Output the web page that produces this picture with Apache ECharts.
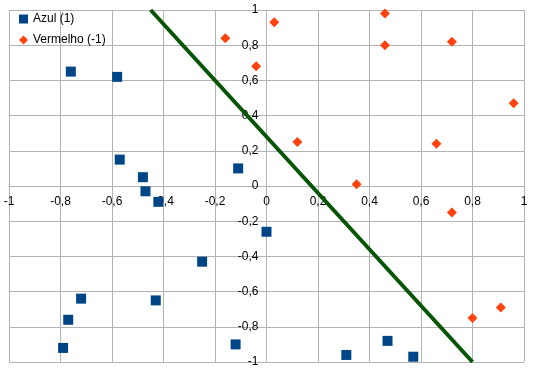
<!DOCTYPE html>
<html>
<head>
<meta charset="utf-8">
<script src="https://cdn.jsdelivr.net/npm/echarts@6/dist/echarts.min.js"></script>
<style>
html,body{margin:0;padding:0;background:#fff;}
#chart{width:534px;height:373px;}
</style>
</head>
<body>
<div id="chart"></div>
<script>
var seriesNames = ['Azul (1)', 'Vermelho (-1)'];
var blueX = [-0.76, -0.58, -0.57, -0.48, -0.47, -0.42, -0.11, -0.25, 0.0, -0.43, -0.72, -0.77, -0.79, -0.12, 0.31, 0.47, 0.57];
var blueY = [0.65, 0.62, 0.15, 0.05, -0.03, -0.09, 0.10, -0.43, -0.26, -0.65, -0.64, -0.76, -0.92, -0.90, -0.96, -0.88, -0.97];
var redX = [-0.16, -0.04, 0.03, 0.12, 0.35, 0.46, 0.46, 0.72, 0.96, 0.66, 0.72, 0.80, 0.91];
var redY = [0.84, 0.68, 0.93, 0.25, 0.01, 0.98, 0.80, 0.82, 0.47, 0.24, -0.15, -0.75, -0.69];
var lineX = [-0.45, 0.80];
var lineY = [1.0, -1.0];
var axisMin = -1, axisMax = 1, axisStep = 0.2;

function zip(xs, ys) { return xs.map(function (x, i) { return [x, ys[i]]; }); }
function fmt(v) { var r = Math.round(v * 10) / 10; return String(r).replace('.', ','); }

var FONT = 'Liberation Sans';
var gridColor = '#b3b3b3';

var chart = echarts.init(document.getElementById('chart'), null, {renderer: 'canvas'});
chart.setOption({
  animation: false,
  backgroundColor: '#ffffff',
  textStyle: {fontFamily: FONT},
  grid: {left: 9, right: 10, top: 10, bottom: 11, containLabel: false, outerBoundsMode: 'none'},
  legend: {
    data: [{name: seriesNames[0], icon: 'rect'}, {name: seriesNames[1], icon: 'diamond'}],
    orient: 'vertical',
    left: 19, top: 13, padding: 0,
    itemWidth: 9, itemHeight: 9, itemGap: 9,
    textStyle: {fontFamily: FONT, fontSize: 12, color: '#000'},
    selectedMode: false
  },
  xAxis: {
    type: 'value', min: axisMin, max: axisMax, interval: axisStep, position: 'bottom',
    axisLine: {onZero: false, lineStyle: {color: gridColor, width: 1}},
    axisTick: {show: false},
    splitLine: {show: true, lineStyle: {color: gridColor, width: 1}},
    axisLabel: {formatter: fmt, color: '#000', fontFamily: FONT, fontSize: 12, margin: 10, showMinLabel: true, showMaxLabel: true}
  },
  yAxis: {
    type: 'value', min: axisMin, max: axisMax, interval: axisStep, position: 'left',
    axisLine: {onZero: false, lineStyle: {color: gridColor, width: 1}},
    axisTick: {show: false},
    splitLine: {show: true, lineStyle: {color: gridColor, width: 1}},
    axisLabel: {formatter: fmt, color: '#000', fontFamily: FONT, fontSize: 12, margin: 8, showMinLabel: true, showMaxLabel: true}
  },
  series: [
    {
      name: 'sep', type: 'line', data: zip(lineX, lineY), symbol: 'none',
      lineStyle: {color: '#055505', width: 4}, itemStyle: {color: '#055505'}, clip: false, z: 3
    },
    {
      name: seriesNames[0], type: 'scatter', data: zip(blueX, blueY),
      symbol: 'rect', symbolSize: 10, itemStyle: {color: '#004586', opacity: 1}, z: 4
    },
    {
      name: seriesNames[1], type: 'scatter', data: zip(redX, redY),
      symbol: 'diamond', symbolSize: 10, itemStyle: {color: '#ff420e', opacity: 1}, z: 4
    }
  ]
});

// Move each axis onto the other axis's zero, measured through the library's scales.
var zeroPx = chart.convertToPixel({xAxisIndex: 0}, 0);
var zeroPy = chart.convertToPixel({yAxisIndex: 0}, 0);
var leftPx = chart.convertToPixel({xAxisIndex: 0}, axisMin);
var bottomPy = chart.convertToPixel({yAxisIndex: 0}, axisMin);
chart.setOption({
  xAxis: {offset: -(bottomPy - zeroPy)},
  yAxis: {offset: -(zeroPx - leftPx)}
});
</script>
</body>
</html>
